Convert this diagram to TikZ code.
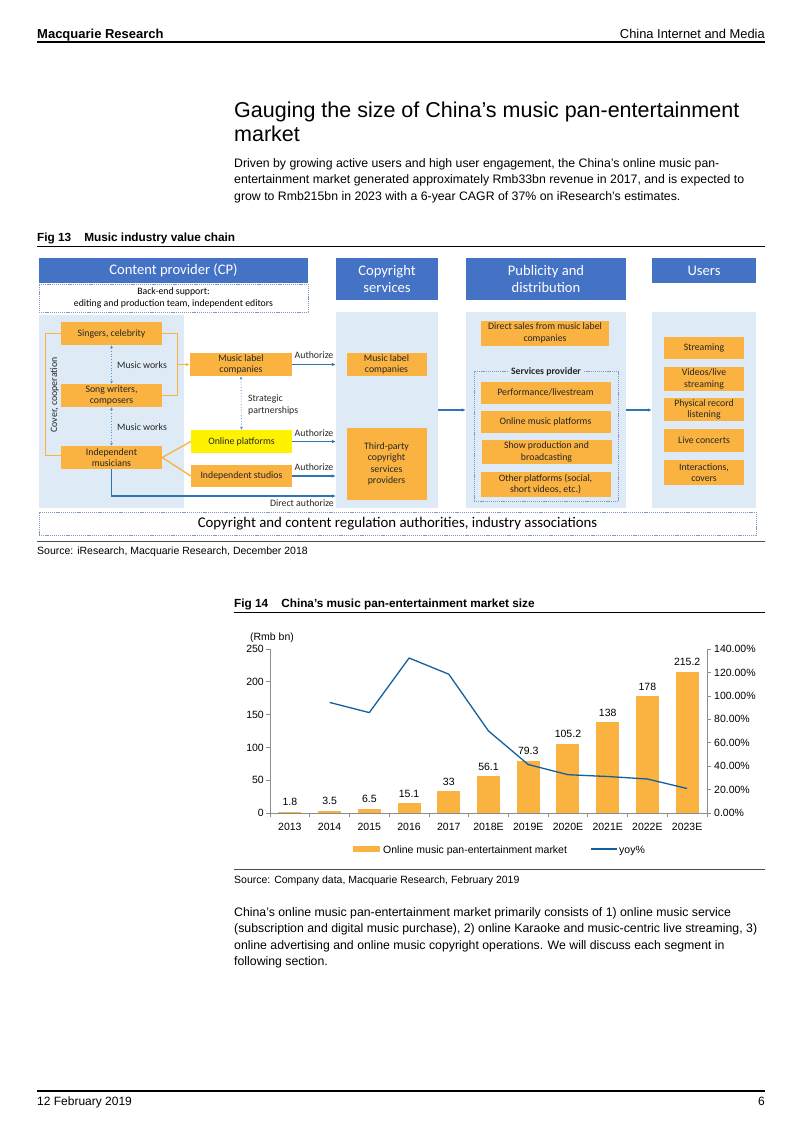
\documentclass[tikz,border=0pt]{standalone}
\usepackage{fontspec}
\setmainfont{Liberation Sans}
\newfontfamily\calfont{Carlito}
\usetikzlibrary{arrows.meta}
\definecolor{hdrblue}{HTML}{4472C4}
\definecolor{bgblue}{HTML}{DEEAF6}
\definecolor{orng}{HTML}{FAB241}
\definecolor{lnblue}{HTML}{2E75B6}
\definecolor{chartblue}{HTML}{135FA0}
\definecolor{dashc}{HTML}{7F9BC4}
\definecolor{axisgray}{HTML}{8C8C8C}
\tikzset{
  wh/.style 2 args={minimum width=#1pt, minimum height=#2pt},
  hdr/.style={fill=hdrblue, text=white, inner sep=0pt, align=center, font=\calfont\fontsize{14.6}{17}\selectfont},
  bgpanel/.style={fill=bgblue, inner sep=0pt},
  obox/.style={fill=orng, inner sep=0pt, align=center, text=black!85, font=\calfont\fontsize{9.8}{11.4}\selectfont},
  dbox/.style={draw=dashc, dash pattern=on 1.2pt off 0.9pt, line width=0.6pt, inner sep=0pt},
  barrow/.style={draw=lnblue, line width=1.1pt, -{Latex[length=4pt,width=3.5pt]}},
  oline/.style={draw=orng, line width=1.3pt},
  oarrow/.style={draw=orng, line width=1.3pt, -{Latex[length=4pt,width=3.5pt]}},
  darrow/.style={draw=lnblue!80, line width=0.8pt, dotted, {Latex[length=3pt,width=3pt]}-{Latex[length=3pt,width=3pt]}},
  lbl/.style={font=\calfont\fontsize{9.8}{11.4}\selectfont, inner sep=0pt, text=black!85},
  ptxt/.style={inner sep=0pt, anchor=base west, align=left},
  rule/.style={line width=0.8pt, draw=black},
  axisline/.style={draw=axisgray, line width=0.7pt},
  clbl/.style={inner sep=0pt, font=\fontsize{10.5}{12}\selectfont},
}
\begin{document}
\begin{tikzpicture}[x=1pt,y=-1pt]
\useasboundingbox (0,0) rectangle (802,1133);
\fill[white] (0,0) rectangle (802,1133);

% page header
\node[ptxt, font=\bfseries\fontsize{13}{15}\selectfont] (hl) at (37,38) {Macquarie Research};
\node[inner sep=0pt, anchor=base east, font=\fontsize{12.9}{15}\selectfont] (hr) at (765,38) {China Internet and Media};
\draw[line width=1.3pt] (37,42) -- (765,42);

% title and intro (multi-line nodes: base = last line)
\node[ptxt, font=\fontsize{21.5}{24}\selectfont] (title) at (234,141) {Gauging the size of China’s music pan-entertainment\\market};
\node[ptxt, font=\fontsize{12.3}{16.5}\selectfont] (intro) at (234,200) {Driven by growing active users and high user engagement, the China’s online music pan-\\entertainment market generated approximately Rmb33bn revenue in 2017, and is expected to\\grow to Rmb215bn in 2023 with a 6-year CAGR of 37\% on iResearch’s estimates.};

% Fig 13 title
\node[ptxt, font=\bfseries\fontsize{11.8}{13}\selectfont] (f13) at (37,241) {Fig 13\hspace{1.1em}Music industry value chain};
\draw[rule] (37,246.5) -- (765,246.5);

% ---------- value chain ----------
\node[hdr, wh={269}{25}] (cphead) at (173.5,270.5) {Content provider (CP)};
\node[dbox, wh={269}{28}, align=center, font=\calfont\fontsize{9.8}{12}\selectfont] (backend) at (173.5,298) {Back-end support:\\editing and production team, independent editors};
\node[hdr, wh={102}{42}] (copyhead) at (387,279) {Copyright\\services};
\node[hdr, wh={160}{42}] (pubhead) at (546,279) {Publicity and\\distribution};
\node[hdr, wh={104}{25}] (usershead) at (704,270.5) {Users};

\node[bgpanel, wh={145}{193}] (cpbg) at (111.5,411.5) {};
\node[bgpanel, wh={102}{196}] (copybg) at (387,410) {};
\node[bgpanel, wh={160}{196}] (pubbg) at (546,410) {};
\node[bgpanel, wh={104}{196}] (usersbg) at (704,410) {};

% CP boxes
\node[obox, wh={101}{23}] (singers) at (111.5,333.5) {Singers, celebrity};
\node[obox, wh={101}{23}] (songw) at (111.5,395.5) {Song writers,\\composers};
\node[obox, wh={101}{23}] (indep) at (111.5,457.5) {Independent\\musicians};
\node[obox, wh={102}{23}] (mlc1) at (241,364.5) {Music label\\companies};
\node[obox, wh={101}{23}, fill=yellow] (onl) at (241.5,441.5) {Online platforms};
\node[obox, wh={101}{22}] (studios) at (241.5,476) {Independent studios};

\draw[darrow] (singers.south) -- (songw.north);
\draw[darrow] (songw.south) -- (indep.north);
\node[lbl, anchor=west] (mw1) at (117,365) {Music works};
\node[lbl, anchor=west] (mw2) at (117,427) {Music works};

\draw[oline] (singers.east) -- ++(15,0) |- (songw.east);
\coordinate (brk) at (177,364.5);
\draw[oarrow] (brk) -- (mlc1.west);
\draw[oline] (singers.west) -- ++(-15,0) |- ([yshift=2pt]indep.west);
\node[lbl, rotate=90] (cover) at (54.5,395) {Cover, cooperation};

\draw[oline] (indep.east) -- (onl.west);
\draw[oline] (indep.east) -- (studios.west);

\draw[darrow] (mlc1.south) -- (onl.north);
\node[lbl, anchor=west, align=left] (strat) at (248,405) {Strategic\\partnerships};

% copyright boxes
\node[obox, wh={80}{23}] (mlc2) at (386.5,364.5) {Music label\\companies};
\node[obox, wh={80}{72}] (third) at (386.5,464) {Third-party\\copyright\\services\\providers};

\draw[barrow] (mlc1.east) -- (mlc1.east -| copybg.west);
\draw[barrow] (onl.east) -- (onl.east -| copybg.west);
\draw[barrow] (studios.east) -- (studios.east -| copybg.west);
\node[lbl, anchor=base] (au1) at (314,358) {Authorize};
\node[lbl, anchor=base] (au2) at (314,436) {Authorize};
\node[lbl, anchor=base] (au3) at (314,470) {Authorize};
\coordinate (da) at (336,496);
\draw[barrow] (indep.south) |- (da);
\node[lbl, anchor=base east] (dal) at (334,506) {Direct authorize};

% publicity boxes
\node[obox, wh={128}{25}] (direct) at (545,333) {Direct sales from music label\\companies};
\node[dbox, wh={144}{130}] (svc) at (546,436.5) {};
\node[inner sep=2pt, fill=bgblue, font=\calfont\bfseries\fontsize{9.8}{11.4}\selectfont, text=black!85] (svcl) at (546,372) {Services provider};
\node[obox, wh={130}{22}] (perf) at (545.5,392.5) {Performance/livestream};
\node[obox, wh={130}{22}] (omp) at (545.5,422) {Online music platforms};
\node[obox, wh={130}{24}] (show) at (546.5,452) {Show production and\\broadcasting};
\node[obox, wh={130}{25}] (other) at (545.5,484) {Other platforms (social,\\short videos, etc.)};

% users boxes
\node[obox, wh={80}{22}] (stream) at (704,348) {Streaming};
\node[obox, wh={80}{24}] (videos) at (704,379) {Videos/live\\streaming};
\node[obox, wh={80}{23}] (phys) at (704,409.5) {Physical record\\listening};
\node[obox, wh={80}{23}] (live) at (704,440.5) {Live concerts};
\node[obox, wh={80}{25}] (inter) at (704,472.5) {Interactions,\\covers};

\draw[barrow] (copybg.east) -- (pubbg.west);
\draw[barrow] (pubbg.east) -- (usersbg.west);

\node[dbox, wh={717}{23}, font=\calfont\fontsize{14.8}{17}\selectfont] (reg) at (397.5,523.5) {Copyright and content regulation authorities, industry associations};

% source 1
\draw[line width=0.5pt, draw=black!70] (37,541) -- (765,541);
\node[ptxt, font=\fontsize{10.5}{12}\selectfont] (src1) at (37,554) {Source: iResearch, Macquarie Research, December 2018};

% ---------- Fig 14 ----------
\node[ptxt, font=\bfseries\fontsize{11.8}{13}\selectfont] (f14) at (234,607) {Fig 14\hspace{1.1em}China’s music pan-entertainment market size};
\draw[rule] (234,612.5) -- (765,612.5);

\node[clbl, anchor=base] (unit) at (272,640) {(Rmb bn)};

% bars and labels
\foreach \v [count=\i from 0] in {1.8,3.5,6.5,15.1,33,56.1,79.3,105.2,138,178,215.2} {
  \pgfmathsetmacro\cx{270+39.727*(\i+0.5)}
  \pgfmathsetmacro\ty{813-\v*0.656}
  \fill[orng] (\cx-11.5,813) rectangle (\cx+11.5,\ty);
  \node[clbl, anchor=base] at (\cx,\ty-6) {\v};
}
% axes
\draw[axisline] (270,649) -- (270,813) -- (707,813) -- (707,649);
\foreach \k in {0,50,100,150,200,250} {
  \pgfmathsetmacro\yy{813-\k*0.656}
  \draw[axisline] (266,\yy) -- (270,\yy);
  \node[clbl, anchor=east] at (264,\yy) {\k};
}
\foreach \p/\t in {0/0.00\%,20/20.00\%,40/40.00\%,60/60.00\%,80/80.00\%,100/100.00\%,120/120.00\%,140/140.00\%} {
  \pgfmathsetmacro\yy{813-\p*1.1714}
  \draw[axisline] (707,\yy) -- (711,\yy);
  \node[clbl, anchor=west] at (714,\yy) {\t};
}
\foreach \i in {0,...,11} {
  \pgfmathsetmacro\xx{270+39.727*\i}
  \draw[axisline] (\xx,813) -- (\xx,817);
}
\foreach \c [count=\i from 0] in {2013,2014,2015,2016,2017,2018E,2019E,2020E,2021E,2022E,2023E} {
  \pgfmathsetmacro\cx{270+39.727*(\i+0.5)}
  \node[clbl, anchor=base] at (\cx,830) {\c};
}
% yoy line
\draw[chartblue, line width=1.3pt, line join=round] plot coordinates {(329.6,702.4) (369.3,712.6) (409.1,658.0) (448.8,674.2) (488.5,731.0) (528.2,764.5) (568.0,774.7) (607.7,776.5) (647.4,779.0) (687.1,788.5)};

% legend
\fill[orng] (353,846) rectangle (380,852);
\node[clbl, anchor=base west] (lg1) at (383,853) {Online music pan-entertainment market};
\draw[chartblue, line width=1.3pt] (591,849) -- (617,849);
\node[clbl, anchor=base west] (lg2) at (619,853) {yoy\%};

% source 2
\draw[line width=0.5pt, draw=black!70] (234,869) -- (765,869);
\node[ptxt, font=\fontsize{10.5}{12}\selectfont] (src2) at (234,883) {Source: Company data, Macquarie Research, February 2019};

\node[ptxt, font=\fontsize{12.3}{16.5}\selectfont] (para) at (234,965.5) {China’s online music pan-entertainment market primarily consists of 1) online music service\\(subscription and digital music purchase), 2) online Karaoke and music-centric live streaming, 3)\\online advertising and online music copyright operations. We will discuss each segment in\\following section.};

% footer
\draw[line width=1.1pt] (37,1091) -- (765,1091);
\node[ptxt, font=\fontsize{12}{14}\selectfont] (date) at (37,1105) {12 February 2019};
\node[inner sep=0pt, anchor=base east, font=\fontsize{12}{14}\selectfont] (pg) at (765,1105) {6};
\end{tikzpicture}
\end{document}
